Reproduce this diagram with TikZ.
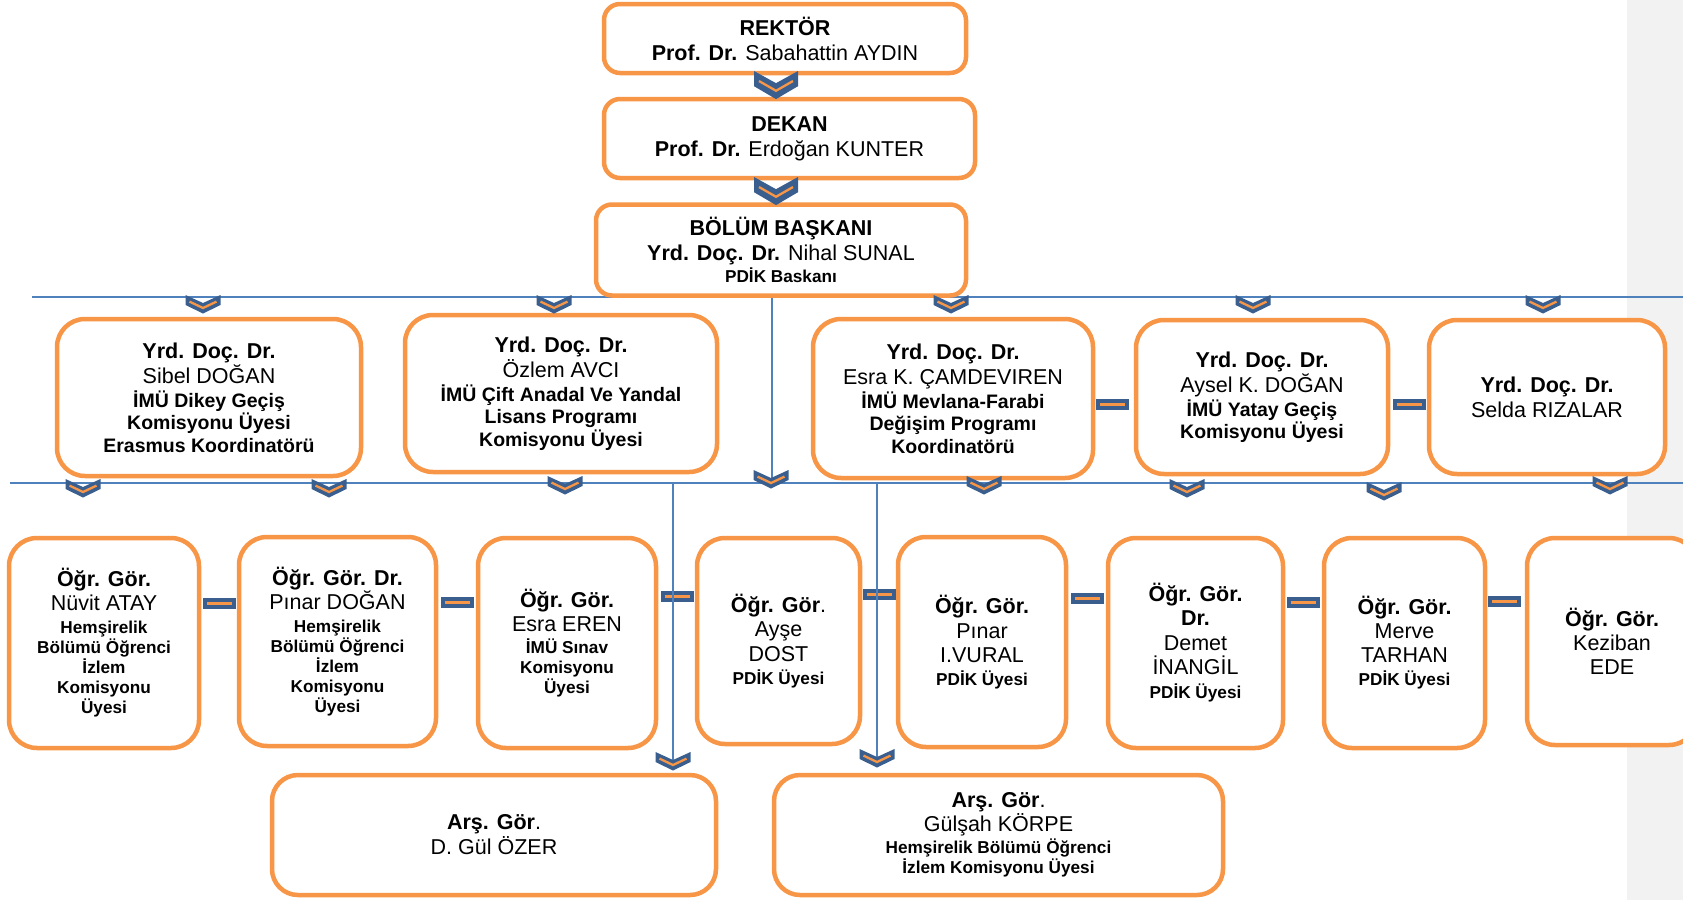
\documentclass[tikz,border=0pt]{standalone}
\usepackage{fontspec}
\setmainfont{Liberation Sans}
\definecolor{orng}{HTML}{F79646}
\definecolor{lblue}{HTML}{4F81BD}
\definecolor{cblue}{HTML}{3A5F8F}
\definecolor{pgray}{HTML}{F2F2F2}
\newcommand\fA{\fontsize{21.5}{25}\selectfont}
\newcommand\fB{\fontsize{19.5}{22.5}\selectfont\bfseries}
\newcommand\fC{\fontsize{17.2}{20}\selectfont\bfseries}
\begin{document}
\begin{tikzpicture}[x=1pt,y=-1pt,
  box/.style={draw=orng, line width=4.5pt, fill=white, rounded corners=#1, align=center, inner sep=0pt, font=\fA},
  box/.default=28pt,
  bus/.style={draw=lblue, line width=1.5pt},
  chev/.pic={
    \fill[cblue] (-17.5,0) -- (0,8) -- (17.5,0) -- (17.5,10) -- (0,18.5) -- (-17.5,10) -- cycle;
    \draw[orng, line width=2.3pt] (-13.5,6.6) -- (0,13) -- (13.5,6.6);
  },
  dashc/.pic={
    \fill[cblue] (-16.5,-5.5) rectangle (16.5,5.5);
    \draw[orng, line width=3pt] (-12.5,0) -- (12.5,0);
  }]
\useasboundingbox (0,0) rectangle (1683,900);
\fill[pgray] (1627,0) rectangle (1683,900);

% bus lines
\coordinate (ua) at (32,297); \coordinate (ub) at (1683,297);
\coordinate (la) at (10,483); \coordinate (lb) at (1683,483);
\draw[bus] (ua) -- (ub);
\draw[bus] (la) -- (lb);

% top boxes
\node[box=16pt, minimum width=362pt, minimum height=69pt] (rek) at (785,38.5)
  {\textbf{REKTÖR}\\\textbf{Prof. Dr.} Sabahattin AYDIN};
\node[box=16pt, minimum width=371pt, minimum height=79pt] (dek) at (789.5,138.5)
  {\textbf{DEKAN}\\\textbf{Prof. Dr.} Erdoğan KUNTER};
\node[box=16pt, minimum width=370pt, minimum height=91pt] (bb) at (781,250)
  {\textbf{BÖLÜM BAŞKANI}\\\textbf{Yrd. Doç. Dr.} Nihal SUNAL\\[-3pt]{\fC PDİK Baskanı}};

% row 2
\node[box, minimum width=304pt, minimum height=157pt] (b1) at (209,397.5)
  {\textbf{Yrd. Doç. Dr.}\\Sibel DOĞAN\\[-1pt]{\fB İMÜ Dikey Geçiş}\\[-2.5pt]{\fB Komisyonu Üyesi}\\[-2.5pt]{\fB Erasmus Koordinatörü}};
\node[box, minimum width=312pt, minimum height=157pt] (b2) at (561,393.5)
  {\textbf{Yrd. Doç. Dr.}\\Özlem AVCI\\[-1pt]{\fB İMÜ Çift Anadal Ve Yandal}\\[-2.5pt]{\fB Lisans Programı}\\[-2.5pt]{\fB Komisyonu Üyesi}};
\node[box, minimum width=280pt, minimum height=159pt] (b3) at (953,398.5)
  {\textbf{Yrd. Doç. Dr.}\\Esra K. ÇAMDEVIREN\\[-1pt]{\fB İMÜ Mevlana-Farabi}\\[-2.5pt]{\fB Değişim Programı}\\[-2.5pt]{\fB Koordinatörü}};
\node[box, minimum width=252pt, minimum height=154pt] (b4) at (1262,397)
  {\textbf{Yrd. Doç. Dr.}\\Aysel K. DOĞAN\\[-1pt]{\fB İMÜ Yatay Geçiş}\\[-2.5pt]{\fB Komisyonu Üyesi}};
\node[box, minimum width=236pt, minimum height=154pt] (b5) at (1547,397)
  {\textbf{Yrd. Doç. Dr.}\\Selda RIZALAR};

% row 3
\node[box, minimum width=190pt, minimum height=210pt] (c1) at (104,643)
  {\textbf{Öğr. Gör.}\\[-1pt]Nüvit ATAY\\[-2pt]{\fC Hemşirelik}\\[-5pt]{\fC Bölümü Öğrenci}\\[-5pt]{\fC İzlem}\\[-5pt]{\fC Komisyonu}\\[-5pt]{\fC Üyesi}};
\node[box, minimum width=197pt, minimum height=209pt] (c2) at (337.5,641.5)
  {\textbf{Öğr. Gör. Dr.}\\[-1pt]Pınar DOĞAN\\[-2pt]{\fC Hemşirelik}\\[-5pt]{\fC Bölümü Öğrenci}\\[-5pt]{\fC İzlem}\\[-5pt]{\fC Komisyonu}\\[-5pt]{\fC Üyesi}};
\node[box, minimum width=178pt, minimum height=210pt] (c3) at (567,643)
  {\textbf{Öğr. Gör.}\\[-1pt]Esra EREN\\[-3pt]{\fC İMÜ Sınav}\\[-5pt]{\fC Komisyonu}\\[-5pt]{\fC Üyesi}};
\node[box, minimum width=163pt, minimum height=206pt] (c4) at (778.5,641)
  {\textbf{Öğr. Gör}.\\[-1pt]Ayşe\\DOST\\[-2pt]{\fC PDİK Üyesi}};
\node[box, minimum width=168pt, minimum height=210pt] (c5) at (982,642)
  {\textbf{Öğr. Gör.}\\Pınar\\[-1pt]I.VURAL\\[-2pt]{\fC PDİK Üyesi}};
\node[box, minimum width=175pt, minimum height=210pt] (c6) at (1195.5,643)
  {\textbf{Öğr. Gör.}\\[-1pt]\textbf{Dr.}\\Demet\\[-1pt]İNANGİL\\[-1pt]{\fC PDİK Üyesi}};
\node[box, minimum width=161pt, minimum height=210pt] (c7) at (1404.5,643)
  {\textbf{Öğr. Gör.}\\[-1pt]Merve\\[-1pt]TARHAN\\[-2pt]{\fC PDİK Üyesi}};
\node[box, minimum width=170pt, minimum height=207pt] (c8) at (1612,641.5)
  {\textbf{Öğr. Gör.}\\[-1pt]Keziban\\[-1pt]EDE};

% row 4
\node[box=26pt, minimum width=444pt, minimum height=120pt] (d1) at (494,835)
  {\textbf{Arş. Gör}.\\D. Gül ÖZER};
\node[box=26pt, minimum width=449pt, minimum height=120pt] (d2) at (998.5,835)
  {\textbf{Arş. Gör}.\\[-1pt]Gülşah KÖRPE\\[-3pt]{\fC Hemşirelik Bölümü Öğrenci}\\[-5pt]{\fC İzlem Komisyonu Üyesi}};

% side connectors
\pic at (1112,404) {dashc};
\pic at (1409,404) {dashc};
\pic at (219.5,603.5) {dashc};
\pic at (457.5,602) {dashc};
\pic at (677,596.5) {dashc};
\pic at (879,594.5) {dashc};
\pic at (1087.5,598) {dashc};
\pic at (1303,602) {dashc};
\pic at (1504.5,601.5) {dashc};

% vertical connectors
\coordinate (v1b) at (772,480);
\coordinate (v2t) at (673,483); \coordinate (v2b) at (673,760);
\coordinate (v3t) at (877,483); \coordinate (v3b) at (877,757);
\draw[bus] (bb.south -| v1b) -- (v1b);
\draw[bus] (v2t) -- (v2b);
\draw[bus] (v3t) -- (v3b);

% chevrons
\pic[xscale=1.257, yscale=1.52] at (776,71) {chev};
\pic[xscale=1.257, yscale=1.52] at (776,177) {chev};
\foreach \x in {203,554,951,1253,1543} { \pic at (\x,295) {chev}; }
\pic at (83,479) {chev};
\pic at (329,479) {chev};
\pic at (565,476) {chev};
\pic at (771,470) {chev};
\pic at (984,476) {chev};
\pic at (1187,479) {chev};
\pic at (1384,482) {chev};
\pic at (1610,476) {chev};
\pic at (673,752) {chev};
\pic at (877,749) {chev};
\end{tikzpicture}
\end{document}
